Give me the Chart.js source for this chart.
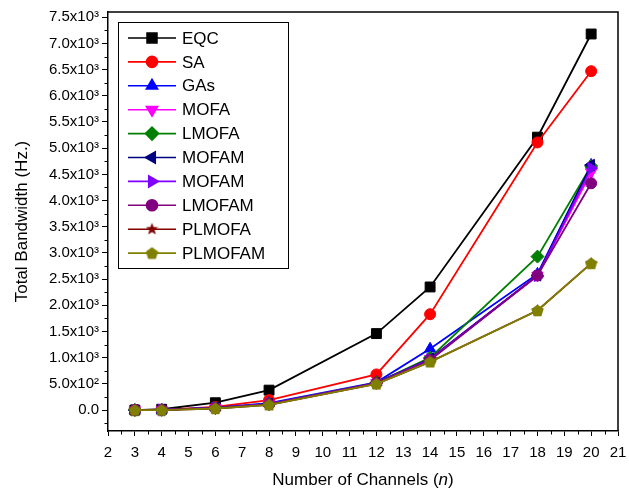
<!DOCTYPE html>
<html>
<head>
<meta charset="utf-8">
<script src="https://cdn.jsdelivr.net/npm/chart.js@4/dist/chart.umd.min.js"></script>
<style>
  html, body { margin: 0; padding: 0; background: #fff; }
  #wrap { width: 629px; height: 494px; }
</style>
</head>
<body>
<div id="wrap"><canvas id="chart" width="629" height="494"></canvas></div>
<script>
// channel counts on the x axis
const channels = [3, 4, 6, 8, 12, 14, 18, 20];

// total bandwidth per method (Hz)
const eqc     = [0, 15, 140, 380, 1460, 2350, 5210, 7180];
const sa      = [0, 5, 60, 190, 680, 1830, 5110, 6470];
const gas     = [0, 5, 45, 130, 530, 1170, 2600, 4680];
const mofa    = [0, 5, 40, 115, 520, 980, 2570, 4540];
const lmofa   = [0, 5, 40, 115, 520, 1000, 2930, 4660];
const mofamA  = [0, 5, 40, 115, 520, 980, 2570, 4680];
const mofamB  = [0, 5, 40, 115, 515, 970, 2560, 4620];
const lmofam  = [0, 5, 35, 110, 510, 950, 2570, 4330];
const plmofa  = [0, 0, 30, 100, 500, 920, 1900, 2800];
const plmofam = [0, 0, 30, 100, 500, 920, 1900, 2800];

const xTicks = [2, 3, 4, 5, 6, 7, 8, 9, 10, 11, 12, 13, 14, 15, 16, 17, 18, 19, 20, 21];
const yTicks = [0, 500, 1000, 1500, 2000, 2500, 3000, 3500, 4000, 4500, 5000, 5500, 6000, 6500, 7000, 7500];

const FONT = '"Liberation Sans", Arial, sans-serif';

// small canvases for marker shapes Chart.js doesn't have filled
function shapeImage(color, kind, size) {
    const c = document.createElement('canvas');
    c.width = size; c.height = size;
    const g = c.getContext('2d');
    const cx = size / 2, cy = size / 2, R = size / 2;
    g.fillStyle = color;
    g.beginPath();
    if (kind === 'star') {
        for (let i = 0; i < 10; i++) {
            const r = i % 2 === 0 ? R : R * 0.42;
            const a = -Math.PI / 2 + i * Math.PI / 5;
            g.lineTo(cx + r * Math.cos(a), cy + r * Math.sin(a));
        }
    } else {
        for (let i = 0; i < 5; i++) {
            const a = -Math.PI / 2 + i * 2 * Math.PI / 5;
            g.lineTo(cx + R * Math.cos(a), cy + R * Math.sin(a) + 0.6);
        }
    }
    g.closePath();
    g.fill();
    return c;
}

const series = [
    { label: 'EQC',    data: eqc,     color: '#000000', style: 'rect',     rot: 0,   r: 7 },
    { label: 'SA',     data: sa,      color: '#ff0000', style: 'circle',   rot: 0,   r: 5.5 },
    { label: 'GAs',    data: gas,     color: '#0000ff', style: 'triangle', rot: 0,   r: 6.5 },
    { label: 'MOFA',   data: mofa,    color: '#ff00ff', style: 'triangle', rot: 180, r: 6.5 },
    { label: 'LMOFA',  data: lmofa,   color: '#008000', style: 'rectRot',  rot: 0,   r: 6.5 },
    { label: 'MOFAM',  data: mofamA,  color: '#000080', style: 'triangle', rot: -90, r: 6.5 },
    { label: 'MOFAM',  data: mofamB,  color: '#8000ff', style: 'triangle', rot: 90,  r: 6.5 },
    { label: 'LMOFAM', data: lmofam,  color: '#800080', style: 'circle',   rot: 0,   r: 5.5 },
    { label: 'PLMOFA', data: plmofa,  color: '#800000', style: shapeImage('#800000', 'star', 13), rot: 0, r: 6.5 },
    { label: 'PLMOFAM', data: plmofam, color: '#808000', style: shapeImage('#808000', 'pent', 13), rot: 0, r: 6.5 }
];

function fmtY(v) {
    if (v === 0) return '0.0';
    const exp = Math.floor(Math.log10(Math.abs(v)));
    const mant = (v / Math.pow(10, exp)).toFixed(1);
    const sup = { 2: '\u00b2', 3: '\u00b3' }[exp];
    return mant + 'x10' + sup;
}

// frame, minor ticks, x title with italic n, and the boxed legend
const decorPlugin = {
    id: 'decor',
    afterDraw(chart) {
        const ctx = chart.ctx;
        const a = chart.chartArea;
        const xs = chart.scales.x, ys = chart.scales.y;
        ctx.save();
        ctx.strokeStyle = '#000';
        ctx.lineWidth = 1.5;
        ctx.beginPath();
        ctx.moveTo(a.left, a.top); ctx.lineTo(a.right, a.top); ctx.lineTo(a.right, a.bottom);
        ctx.stroke();
        ctx.lineWidth = 1;
        ctx.beginPath();
        for (let v = 2.5; v < 21; v += 1) {
            const px = Math.round(xs.getPixelForValue(v)) + 0.5;
            ctx.moveTo(px, a.bottom); ctx.lineTo(px, a.bottom + 3.5);
        }
        for (let v = -250; v < 7600; v += 500) {
            const py = Math.round(ys.getPixelForValue(v)) + 0.5;
            ctx.moveTo(a.left, py); ctx.lineTo(a.left - 3.5, py);
        }
        ctx.stroke();

        // x axis title
        ctx.fillStyle = '#000';
        ctx.textBaseline = 'middle';
        ctx.textAlign = 'left';
        const parts = [['Number of Channels (', 'normal'], ['n', 'italic'], [')', 'normal']];
        let total = 0;
        parts.forEach(p => { ctx.font = p[1] + ' 17px ' + FONT; total += ctx.measureText(p[0]).width; });
        let tx = (a.left + a.right) / 2 - total / 2;
        parts.forEach(p => {
            ctx.font = p[1] + ' 17px ' + FONT;
            ctx.fillText(p[0], tx, 480);
            tx += ctx.measureText(p[0]).width;
        });

        // legend box
        const bx = 118, by = 22, bw = 170, bh = 246, rowH = 23.9;
        ctx.lineWidth = 1;
        ctx.strokeStyle = '#000';
        ctx.strokeRect(bx + 0.5, by + 0.5, bw, bh);
        ctx.font = '17px ' + FONT;
        series.forEach((s, i) => {
            const y = by + 16 + i * rowH;
            ctx.strokeStyle = s.color;
            ctx.lineWidth = 1.6;
            ctx.beginPath();
            ctx.moveTo(128, y); ctx.lineTo(176, y);
            ctx.stroke();
            ctx.fillStyle = s.color;
            Chart.helpers.drawPoint(ctx, { pointStyle: s.style, rotation: s.rot, radius: s.r, borderWidth: 1 }, 152, y);
            ctx.fillStyle = '#000';
            ctx.fillText(s.label, 182, y + 1);
        });
        ctx.restore();
    }
};

const datasets = series.map((s, i) => ({
    label: s.label,
    data: channels.map((c, k) => ({ x: c, y: s.data[k] })),
    borderColor: s.color,
    backgroundColor: s.color,
    pointBackgroundColor: s.color,
    pointBorderColor: s.color,
    pointBorderWidth: 1,
    pointStyle: s.style,
    pointRotation: s.rot,
    pointRadius: s.r,
    borderWidth: 1.8,
    tension: 0,
    order: series.length - i
}));

new Chart(document.getElementById('chart').getContext('2d'), {
    type: 'line',
    data: { datasets: datasets },
    options: {
        responsive: false,
        animation: false,
        layout: { padding: { left: 0, right: 11, top: 12, bottom: 0 } },
        plugins: {
            legend: { display: false },
            tooltip: { enabled: false }
        },
        scales: {
            x: {
                type: 'linear',
                min: 2,
                max: 21,
                afterBuildTicks: scale => { scale.ticks = xTicks.map(v => ({ value: v })); },
                afterFit: scale => { scale.height = 63; scale.paddingLeft = 0; scale.paddingRight = 0; },
                border: { color: '#000', width: 1.5 },
                grid: { display: true, drawOnChartArea: false, drawTicks: true, tickLength: 5, color: '#000' },
                ticks: { color: '#000', font: { family: FONT, size: 15 }, padding: 8, maxRotation: 0, autoSkip: false },
                title: { display: false }
            },
            y: {
                type: 'linear',
                min: -400,
                max: 7600,
                afterBuildTicks: scale => { scale.ticks = yTicks.map(v => ({ value: v })); },
                afterFit: scale => { scale.width = 108; },
                border: { color: '#000', width: 1.5 },
                grid: { display: true, drawOnChartArea: false, drawTicks: true, tickLength: 6, color: '#000' },
                ticks: { color: '#000', font: { family: FONT, size: 15 }, padding: 3, callback: v => fmtY(v) },
                title: {
                    display: true,
                    text: 'Total Bandwidth (Hz.)',
                    color: '#000',
                    font: { family: FONT, size: 17 },
                    padding: { top: 12, bottom: 4 }
                }
            }
        }
    },
    plugins: [decorPlugin]
});
</script>
</body>
</html>
